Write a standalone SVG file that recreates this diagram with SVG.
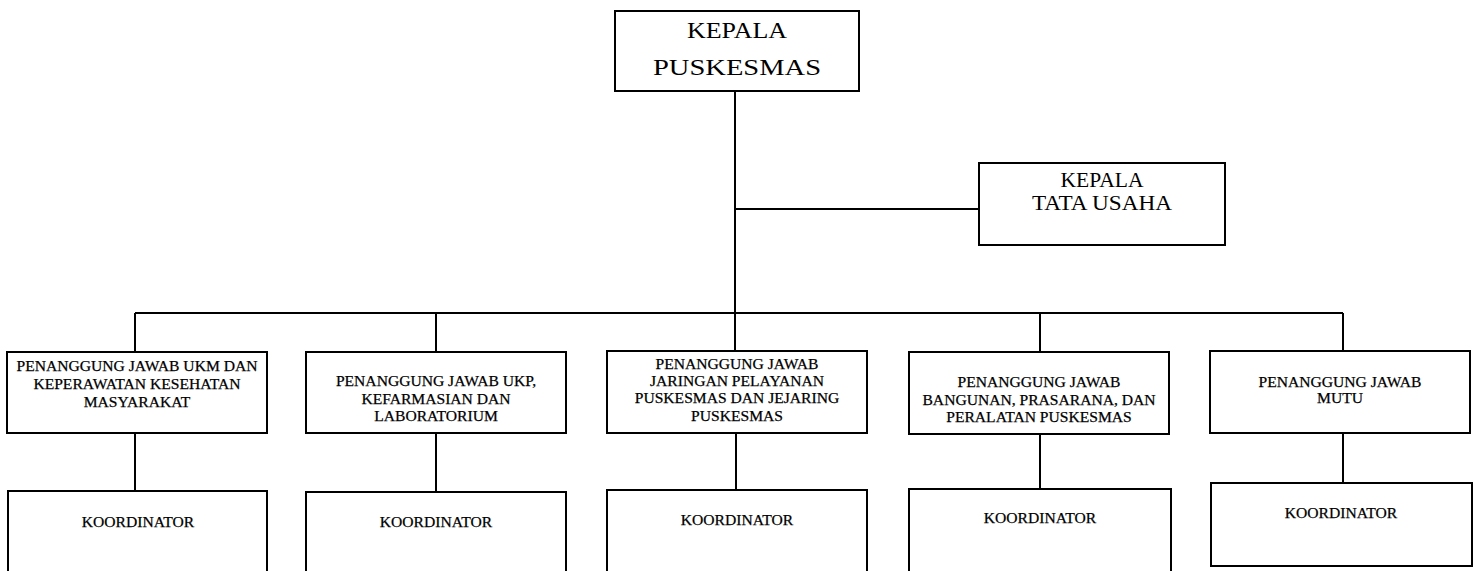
<svg xmlns="http://www.w3.org/2000/svg" width="1479" height="571" viewBox="0 0 1479 571">
<style>
.box{fill:#fff;stroke:#000;stroke-width:2}
.ln{stroke:#000;stroke-width:2;fill:none}
.t{font-family:"Liberation Serif","Times New Roman",serif;fill:#000;text-anchor:middle}
.big{font-size:24px}
.mid{font-size:20px}
.sm{font-size:15.6px;stroke:#000;stroke-width:0.25}
</style>
<rect width="1479" height="571" fill="#fff"/>
<g id="connectors">
<path class="ln" d="M735,91 V352"/>
<path class="ln" d="M735,209 H979"/>
<path class="ln" d="M135,313 H1343"/>
<path class="ln" d="M135,313 V352 M436,313 V352 M1040,313 V352 M1343,313 V351"/>
<path class="ln" d="M135,433 V491 M436,433 V492 M736,433 V490 M1040,434 V489 M1343,433 V483"/>
</g>
<g id="kepala-puskesmas">
<rect class="box" x="615" y="11" width="244" height="80"/>
<text class="t big" x="737" y="38" textLength="100" lengthAdjust="spacingAndGlyphs">KEPALA</text>
<text class="t big" x="737" y="75" textLength="168" lengthAdjust="spacingAndGlyphs">PUSKESMAS</text>
</g>
<g id="kepala-tata-usaha">
<rect class="box" x="979" y="163" width="246" height="82"/>
<text class="t mid" x="1102" y="187" textLength="83" lengthAdjust="spacingAndGlyphs">KEPALA</text>
<text class="t mid" x="1102" y="210" textLength="140" lengthAdjust="spacingAndGlyphs">TATA USAHA</text>
</g>
<g id="pj-ukm">
<rect class="box" x="7" y="352" width="260" height="81"/>
<text class="t sm" x="137" y="371">PENANGGUNG JAWAB UKM DAN</text>
<text class="t sm" x="137" y="389">KEPERAWATAN KESEHATAN</text>
<text class="t sm" x="137" y="407">MASYARAKAT</text>
</g>
<g id="pj-ukp">
<rect class="box" x="306" y="352" width="260" height="81"/>
<text class="t sm" x="436" y="386">PENANGGUNG JAWAB UKP,</text>
<text class="t sm" x="436" y="403.5">KEFARMASIAN DAN</text>
<text class="t sm" x="436" y="421">LABORATORIUM</text>
</g>
<g id="pj-jaringan">
<rect class="box" x="607" y="351" width="260" height="82"/>
<text class="t sm" x="737" y="369">PENANGGUNG JAWAB</text>
<text class="t sm" x="737" y="386">JARINGAN PELAYANAN</text>
<text class="t sm" x="737" y="403">PUSKESMAS DAN JEJARING</text>
<text class="t sm" x="737" y="421">PUSKESMAS</text>
</g>
<g id="pj-bangunan">
<rect class="box" x="909" y="352" width="260" height="82"/>
<text class="t sm" x="1039" y="387">PENANGGUNG JAWAB</text>
<text class="t sm" x="1039" y="404.5">BANGUNAN, PRASARANA, DAN</text>
<text class="t sm" x="1039" y="422">PERALATAN PUSKESMAS</text>
</g>
<g id="pj-mutu">
<rect class="box" x="1210" y="351" width="260" height="82"/>
<text class="t sm" x="1340" y="387">PENANGGUNG JAWAB</text>
<text class="t sm" x="1340" y="403">MUTU</text>
</g>
<g id="koordinator-1">
<rect class="box" x="8" y="491" width="259" height="95"/>
<text class="t sm" x="138" y="527">KOORDINATOR</text>
</g>
<g id="koordinator-2">
<rect class="box" x="306" y="492" width="260" height="95"/>
<text class="t sm" x="436" y="527">KOORDINATOR</text>
</g>
<g id="koordinator-3">
<rect class="box" x="607" y="490" width="260" height="95"/>
<text class="t sm" x="737" y="525">KOORDINATOR</text>
</g>
<g id="koordinator-4">
<rect class="box" x="909" y="489" width="262" height="95"/>
<text class="t sm" x="1040" y="523">KOORDINATOR</text>
</g>
<g id="koordinator-5">
<rect class="box" x="1211" y="483" width="261" height="83"/>
<text class="t sm" x="1341" y="518">KOORDINATOR</text>
</g>
</svg>
